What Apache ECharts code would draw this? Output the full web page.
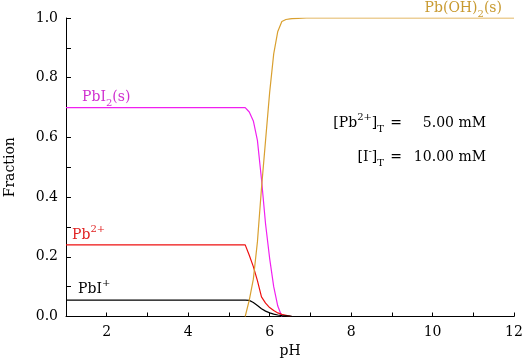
<!DOCTYPE html>
<html>
<head>
<meta charset="utf-8">
<script src="https://cdn.jsdelivr.net/npm/echarts@6/dist/echarts.min.js"></script>
<style>html,body{margin:0;padding:0;background:#fff;}#c{width:528px;height:358px;}</style>
</head>
<body>
<div id="c"></div>
<script>
// pH grid shared by all species
var pH = [1, 5.4, 5.5, 5.6, 5.7, 5.8, 5.9, 6.0, 6.1, 6.2, 6.3, 6.4, 6.5, 6.55, 6.7, 6.9, 12];
// Fractions (null = not drawn)
var PbI2s  = [0.70, 0.70, 0.685, 0.655, 0.59, 0.46, 0.31, 0.195, 0.10, 0.035, 0, null, null, null, null, null, null];
var Pb2    = [0.24, 0.24, 0.205, 0.167, 0.12, 0.066, 0.045, 0.03, 0.02, 0.012, 0.007, 0.004, 0.001, 0, null, null, null];
var PbI    = [0.055, 0.055, 0.054, 0.047, 0.037, 0.026, 0.018, 0.012, 0.008, 0.005, 0.003, 0.002, 0.001, 0, null, null, null];
var PbOH2s = [null, 0, 0.055, 0.125, 0.25, 0.43, 0.59, 0.75, 0.88, 0.955, 0.988, 0.995, 0.997, 0.998, 0.999, 1.0, 1.0];
var xTicks = [2, 4, 6, 8, 10, 12];

var FF = 'DejaVu Serif';
function pairs(v) { return pH.map(function (x, i) { return [x, v[i]]; }); }
function line(name, v, color) {
  return { name: name, type: 'line', data: pairs(v), showSymbol: false, connectNulls: false,
    lineStyle: { color: color, width: 1.2 }, itemStyle: { color: color }, animation: false };
}
function rich(color) {
  return {
    a: { fontFamily: FF, fontSize: 14, fill: color, lineHeight: 22, verticalAlign: 'middle' },
    sup: { fontFamily: FF, fontSize: 10, fill: color, lineHeight: 22, verticalAlign: 'top' },
    sub: { fontFamily: FF, fontSize: 10, fill: color, lineHeight: 22, verticalAlign: 'bottom' }
  };
}
function txt(x, y, text, color, align) {
  return { type: 'text', x: x, y: y, z: 100,
    style: { text: text, rich: rich(color), align: align || 'left', verticalAlign: 'middle', fill: color, font: '14px ' + FF } };
}

var chart = echarts.init(document.getElementById('c'), null, { renderer: 'canvas' });
chart.setOption({
  animation: false,
  backgroundColor: '#fff',
  grid: { left: 66, right: 14, top: 18, bottom: 41.5, containLabel: false, outerBoundsMode: 'none' },
  xAxis: {
    type: 'value', min: 1, max: 12, interval: 1,
    name: 'pH', nameLocation: 'middle', nameGap: 26,
    nameTextStyle: { fontFamily: FF, fontSize: 14, color: '#000' },
    axisLine: { show: true, lineStyle: { color: '#000', width: 1 } },
    axisTick: { show: true, inside: true, length: 4, lineStyle: { color: '#000' } },
    splitLine: { show: false },
    axisLabel: { margin: 9, fontFamily: FF, fontSize: 14, color: '#000',
      formatter: function (v) { return xTicks.indexOf(Math.round(v)) >= 0 && Math.abs(v - Math.round(v)) < 1e-6 ? String(Math.round(v)) : ''; } }
  },
  yAxis: {
    type: 'value', min: 0, max: 1, interval: 0.1,
    name: 'Fraction', nameLocation: 'middle', nameGap: 49, nameRotate: 90,
    nameTextStyle: { fontFamily: FF, fontSize: 14, color: '#000' },
    axisLine: { show: true, lineStyle: { color: '#000', width: 1 } },
    axisTick: { show: true, inside: true, length: 5, lineStyle: { color: '#000' } },
    splitLine: { show: false },
    axisLabel: { margin: 8, fontFamily: FF, fontSize: 14, color: '#000',
      formatter: function (v) { return Math.round(v * 10) % 2 === 0 ? v.toFixed(1) : ''; } }
  },
  series: [
    line('PbI2(s)', PbI2s, '#F020F0'),
    line('Pb2+', Pb2, '#EE1111'),
    line('PbI+', PbI, '#000000'),
    line('Pb(OH)2(s)', PbOH2s, '#D9A030')
  ],
  graphic: [
    txt(82, 97, '{a|PbI}{sub|2}{a|(s)}', '#D030D0'),
    txt(72, 235, '{a|Pb}{sup|2+}', '#E02020'),
    txt(78, 289, '{a|PbI}{sup|+}', '#000000'),
    txt(502, 8, '{a|Pb(OH)}{sub|2}{a|(s)}', '#C89A30', 'right'),
    txt(384, 123, '{a|[Pb}{sup|2+}{a|]}{sub|T}', '#000000', 'right'),
    txt(396, 123, '{a|=}', '#000000', 'center'),
    txt(486, 123, '{a|5.00 mM}', '#000000', 'right'),
    txt(384, 157, '{a|[I}{sup|-}{a|]}{sub|T}', '#000000', 'right'),
    txt(396, 157, '{a|=}', '#000000', 'center'),
    txt(486, 157, '{a|10.00 mM}', '#000000', 'right')
  ]
});
</script>
</body>
</html>
